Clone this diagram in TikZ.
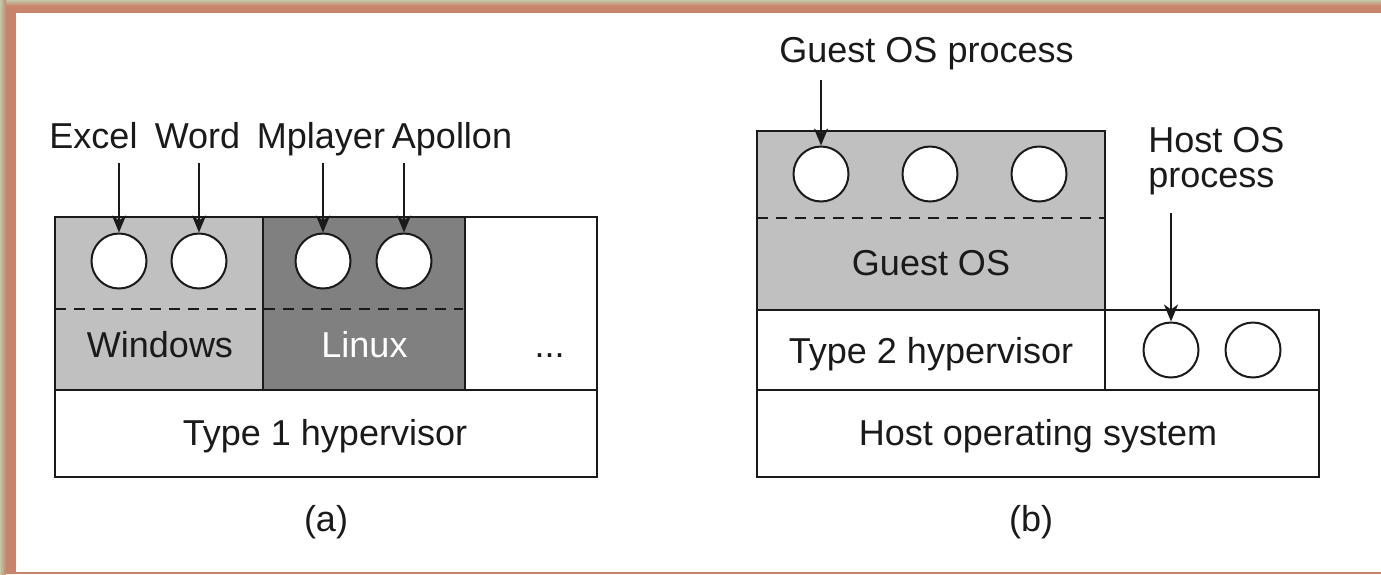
\documentclass[tikz,border=0pt]{standalone}
\usepackage{fontspec}
\setmainfont{Liberation Sans}
\usetikzlibrary{arrows.meta}

\definecolor{framebrown}{HTML}{C8836B}
\definecolor{frameedge}{HTML}{C5C7A8}
\definecolor{lightgr}{HTML}{C0C0C0}
\definecolor{darkgr}{HTML}{808080}
\definecolor{ink}{HTML}{1A1A1A}

\begin{document}
\begin{tikzpicture}[x=0.5pt,y=-0.5pt,
  box/.style={draw=ink,line width=1.1pt},
  proc/.style={circle,draw=ink,fill=white,line width=1pt,minimum size=27.5pt,inner sep=0pt},
  sep/.style={draw=ink,line width=1pt,dash pattern=on 5.5pt off 4pt},
  lbl/.style={font=\fontsize{18}{17.5}\selectfont,text=ink,anchor=base,inner sep=0pt},
  arr/.style={draw=ink,line width=1pt,-{Stealth[length=8.5pt,width=7pt,inset=2.5pt]}}
]
\useasboundingbox (0,0) rectangle (1381,574);

% page frame
\fill[framebrown] (0,0) rectangle (1381,574);
\shade[top color=frameedge,bottom color=framebrown] (0,0) rectangle (1381,6);
\shade[left color=frameedge,right color=framebrown] (0,0) rectangle (6,574);
\fill[white] (16,13) rectangle (1381,572);

% ---------- (a) type 1 hypervisor ----------
\filldraw[box,fill=lightgr] (55,217) rectangle (263,390);
\filldraw[box,fill=darkgr] (263,217) rectangle (465,390);
\draw[box] (465,217) rectangle (597,390);
\draw[box] (55,390) rectangle (597,477);
\draw[sep] (55,309) -- (463,309);

\node[proc] (excelp) at (119,261) {};
\node[proc] (wordp) at (199,261) {};
\node[proc] (mplayerp) at (323,261) {};
\node[proc] (apollonp) at (404,261) {};

\node[lbl] (excel) at (93.5,148) {Excel};
\node[lbl] (word) at (197.5,148) {Word};
\node[lbl] (mplayer) at (321,148) {Mplayer};
\node[lbl] (apollon) at (452,148) {Apollon};

\coordinate (excelt) at (119,163);
\coordinate (wordt) at (199,163);
\coordinate (mplayert) at (323,163);
\coordinate (apollont) at (404,163);
\draw[arr] (excelt) -- (excelp.north);
\draw[arr] (wordt) -- (wordp.north);
\draw[arr] (mplayert) -- (mplayerp.north);
\draw[arr] (apollont) -- (apollonp.north);

\node[lbl] (windows) at (160,357) {Windows};
\node[lbl,text=white] (linux) at (364.5,357) {Linux};
\node[lbl] (more) at (549.5,357) {...};
\node[lbl] (type1) at (325,445) {Type 1 hypervisor};
\node[lbl] (capa) at (326,531) {(a)};

% ---------- (b) type 2 hypervisor ----------
\filldraw[box,fill=lightgr] (757,131) rectangle (1105,310);
\draw[sep] (757,218) -- (1105,218);
\draw[box] (757,310) rectangle (1319,390);
\draw[box] (1105,310) -- (1105,390);
\draw[box] (757,390) rectangle (1319,477);

\node[proc] (gp1) at (821,174) {};
\node[proc] (gp2) at (930,174) {};
\node[proc] (gp3) at (1039,174) {};
\node[proc] (hp1) at (1171,350) {};
\node[proc] (hp2) at (1253,350) {};

\node[lbl] (guestproc) at (926.5,62) {Guest OS process};
% the base anchor of a two-line node sits on its last line
\node[lbl,anchor=base west,align=left] (hostproc) at (1148,187) {Host OS\\process};

\coordinate (guestt) at (821,80);
\coordinate (hostt) at (1171,213);
\draw[arr] (guestt) -- (gp1.north);
\draw[arr] (hostt) -- (hp1.north);

\node[lbl] (guestos) at (931,275) {Guest OS};
\node[lbl] (type2) at (931,363) {Type 2 hypervisor};
\node[lbl] (hostos) at (1038,445) {Host operating system};
\node[lbl] (capb) at (1031,531) {(b)};
\end{tikzpicture}
\end{document}
